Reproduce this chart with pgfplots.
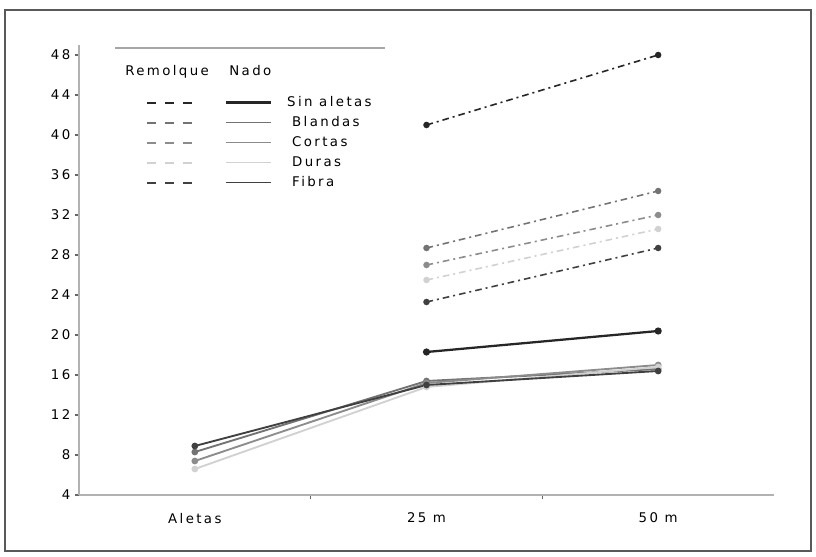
\documentclass[border=0pt]{standalone}
\usepackage{pgfplots}
\pgfplotsset{compat=1.18}
\usepackage{fontspec}
\setmainfont{DejaVu Sans}[LetterSpace=18]
\colorlet{csa}{black!85}
\colorlet{cbl}{black!55}
\colorlet{cco}{black!45}
\colorlet{cdu}{black!18}
\colorlet{cfi}{black!75}
\pgfplotsset{
  rem/.style={line width=1.2pt, dash pattern=on 5pt off 3pt on 1.5pt off 3pt, mark=*, mark size=1.8pt, mark options={solid},
    legend image code/.code={\draw[##1, mark=none, line width=1.5pt, dash pattern=on 6.5pt off 7pt] (0pt,0pt) -- (36.75pt,0pt);}},
  nad/.style={line width=1.4pt, solid, mark=*, mark size=1.8pt,
    legend image code/.code={\draw[##1, mark=none] (0pt,0pt) -- (33.75pt,0pt);}},
}
\begin{document}
\begin{tikzpicture}
\useasboundingbox (-59.25pt,-45.75pt) rectangle (552.75pt,371.25pt);
\draw[black!65, line width=1.2pt] (-55.5pt,-42pt) rectangle (549pt,363.75pt);
\begin{axis}[
  scale only axis, width=521.25pt, height=337.5pt,
  xmin=-0.5, xmax=2.5, ymin=4, ymax=49,
  axis x line*=bottom, axis y line*=left,
  axis line style={black!30, line width=1.2pt, -},
  ytick={4,8,...,48},
  xtick={0.5,1.5}, xticklabels={},
  extra x ticks={0,1,2}, extra x tick labels={Aletas,25 m,50 m},
  extra x tick style={major tick length=0pt, xticklabel style={yshift=-10pt}},
  tick align=outside, major tick length=3pt,
  tick style={black!60, line width=0.8pt},
  ticklabel style={font=\fontsize{10}{12}\selectfont, text=black},
  /pgf/number format/assume math mode=true,
  legend columns=2,
  legend cell align=left,
  legend style={draw=none, fill=none, inner sep=0pt, column sep=0pt, row sep=5.5pt,
    at={(axis description cs:0.0662,0.954)}, anchor=north west,
    font=\fontsize{10}{12}\selectfont,
    nodes={inner sep=0pt, text height=7.5pt, text depth=2pt},
    /tikz/column 2/.style={column sep=11.25pt},
    /tikz/column 3/.style={column sep=11pt}},
]
\addlegendimage{legend image code/.code={\node[anchor=west, inner sep=0pt, text height=7.5pt, text depth=2pt] at (-16.5pt,0pt) {Remolque}; \path (0pt,-12.25pt);}}
\addlegendentry{}
\addlegendimage{legend image code/.code={\node[anchor=west, inner sep=0pt, text height=7.5pt, text depth=2pt] at (2pt,0pt) {Nado}; \path (0pt,-12.25pt);}}
\addlegendentry{}

\addplot[rem, color=csa] coordinates {(1,41.0) (2,48.0)};
\addlegendentry{}
\addplot[nad, color=csa, line width=1.7pt] coordinates {(1,18.3) (2,20.4)};
\addlegendentry{Sin aletas}
\addplot[rem, color=cbl] coordinates {(1,28.7) (2,34.4)};
\addlegendentry{}
\addplot[nad, color=cbl] coordinates {(0,8.3) (1,15.4) (2,16.6)};
\addlegendentry{\hspace{3.75pt}Blandas}
\addplot[rem, color=cco] coordinates {(1,27.0) (2,32.0)};
\addlegendentry{}
\addplot[nad, color=cco] coordinates {(0,7.4) (1,15.2) (2,17.0)};
\addlegendentry{\hspace{3.75pt}Cortas}
\addplot[rem, color=cdu] coordinates {(1,25.5) (2,30.6)};
\addlegendentry{}
\addplot[nad, color=cdu] coordinates {(0,6.6) (1,14.8) (2,16.8)};
\addlegendentry{\hspace{3.75pt}Duras}
\addplot[rem, color=cfi] coordinates {(1,23.3) (2,28.7)};
\addlegendentry{}
\addplot[nad, color=cfi] coordinates {(0,8.9) (1,15.0) (2,16.4)};
\addlegendentry{\hspace{3.75pt}Fibra}
\draw[black!35, line width=1pt] (axis description cs:0.052,0.993) -- (axis description cs:0.44,0.993);
\end{axis}
\end{tikzpicture}
\end{document}
